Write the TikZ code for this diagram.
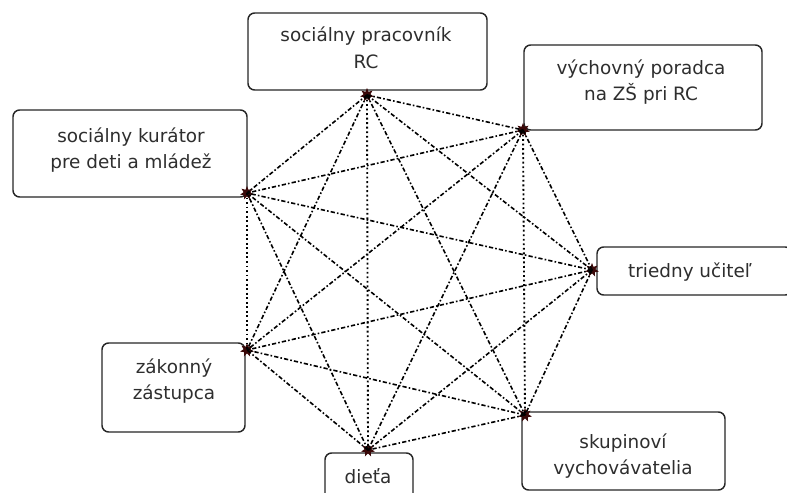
\documentclass[tikz,border=0pt]{standalone}
\usepackage{fontspec}
\setmainfont{DejaVu Sans}

\definecolor{dotred}{HTML}{3A0808}
\definecolor{inkgray}{HTML}{2E2E2E}

\tikzset{
  box/.style={draw=black!85, line width=1.1pt, rounded corners=5pt, fill=white, inner sep=0pt},
  txt/.style={align=center, inner sep=0pt, text=inkgray, font=\fontsize{13.8}{20}\selectfont},
  pt/.style={star, star points=7, star point ratio=2, fill=dotred, inner sep=0pt, minimum size=10.5pt},
  link/.style={line width=1.2pt, dash pattern=on 3.2pt off 1.6pt on 1.2pt off 1.6pt},
  vlink/.style={line width=1.4pt, dotted}
}

\usetikzlibrary{shapes.geometric}

\begin{document}
\begin{tikzpicture}[x=0.75pt, y=-0.75pt]
    % Frame of the picture
    \clip (0,0) rectangle (787,492);

    % Boxes
    \node[box, minimum width=179.25pt, minimum height=57.75pt] (bpr) at (367.5,51.5) {};
    \node[box, minimum width=178.5pt, minimum height=63.75pt] (bvp) at (643,87.5) {};
    \node[box, minimum width=175.5pt, minimum height=65.25pt] (bsk) at (130,153.5) {};
    \node[box, minimum width=146.25pt, minimum height=36pt] (btu) at (694.5,271) {};
    \node[box, minimum width=107.25pt, minimum height=66.75pt] (bzz) at (173.5,387.5) {};
    \node[box, minimum width=66pt, minimum height=36pt] (bdi) at (369,477) {};
    \node[box, minimum width=152.25pt, minimum height=58.5pt] (bsv) at (623.5,451) {};

    % Labels
    \node[txt] (tpr) at (366,48) {soci\'alny pracovn\'ik\\RC};
    \node[txt] (tvp) at (641,82) {v\'ychovn\'y poradca\\na Z\v{S} pri RC};
    \node[txt] (tsk) at (131,150) {soci\'alny kur\'ator\\pre deti a ml\'ade\v{z}};
    \node[txt] (ttu) at (690,272) {triedny u\v{c}ite\v{l}};
    \node[txt] (tzz) at (174,381) {z\'akonn\'y\\z\'astupca};
    \node[txt] (tdi) at (368,476) {die\v{t}a};
    \node[txt] (tsv) at (623,456) {skupinov\'i\\vychov\'avatelia};

    % Meeting points
    \node[pt] (pr) at (367,95) {};
    \node[pt] (vp) at (523,130) {};
    \node[pt] (tu) at (592,270) {};
    \node[pt] (sv) at (525,415) {};
    \node[pt] (di) at (368,450) {};
    \node[pt] (zz) at (247,350) {};
    \node[pt] (sk) at (247,193) {};

    % Links between every pair
    \foreach \a/\b in {pr/vp, pr/tu, pr/sv, pr/zz, pr/sk, vp/tu, vp/di, vp/zz, vp/sk,
                       tu/sv, tu/di, tu/zz, tu/sk, sv/di, sv/zz, sv/sk, di/zz, di/sk}
      \draw[link] (\a.center) -- (\b.center);
    \foreach \a/\b in {pr/di, vp/sv, sk/zz}
      \draw[vlink] (\a.center) -- (\b.center);
  \end{tikzpicture}
\end{document}
